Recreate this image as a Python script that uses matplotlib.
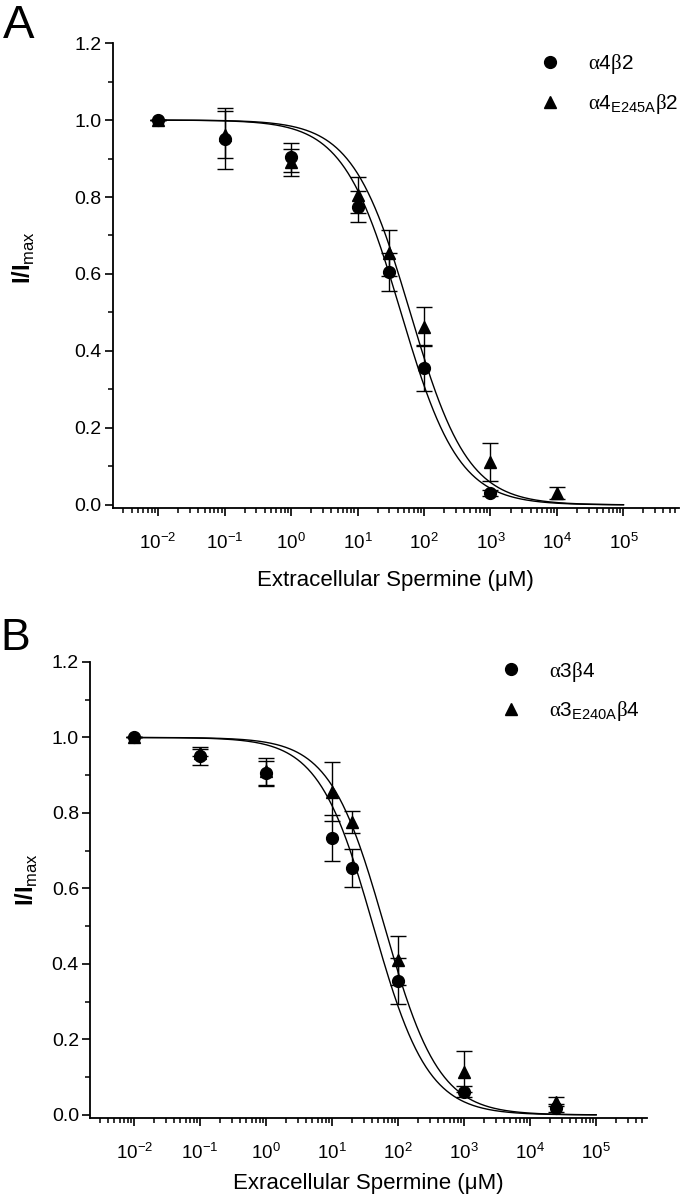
import matplotlib
matplotlib.use("Agg")
import matplotlib.pyplot as plt
import numpy as np
from matplotlib.ticker import (FixedLocator, LogLocator, MultipleLocator,
                               FormatStrFormatter, NullFormatter, LogFormatterSciNotation)

plt.rcParams['font.family'] = ['Liberation Sans', 'DejaVu Sans']
plt.rcParams['mathtext.fontset'] = 'custom'
plt.rcParams['mathtext.rm'] = 'Liberation Serif'
plt.rcParams['mathtext.sf'] = 'Liberation Sans'
plt.rcParams['mathtext.bf'] = 'Liberation Sans:bold'

# panel A: alpha4 beta2
a_conc_wt = [0.01, 0.1, 1, 10, 30, 100, 1000]
a_wt = [1.0, 0.952, 0.903, 0.775, 0.605, 0.355, 0.031]
a_wt_err = [0.0, 0.079, 0.038, 0.040, 0.050, 0.060, 0.008]
a_conc_mut = [0.01, 0.1, 1, 10, 30, 100, 1000, 10000]
a_mut = [1.0, 0.962, 0.890, 0.805, 0.655, 0.463, 0.112, 0.031]
a_mut_err = [0.0, 0.061, 0.035, 0.047, 0.059, 0.050, 0.050, 0.016]
a_fit_ic50 = [45.0, 62.0]
a_fit_n = [1.0, 1.0]

# panel B: alpha3 beta4
b_conc = [0.01, 0.1, 1, 10, 20, 100, 1000, 25000]
b_wt = [1.0, 0.952, 0.905, 0.734, 0.655, 0.355, 0.062, 0.018]
b_wt_err = [0.0, 0.024, 0.033, 0.060, 0.050, 0.060, 0.015, 0.010]
b_mut = [1.0, 0.960, 0.910, 0.856, 0.776, 0.410, 0.115, 0.035]
b_mut_err = [0.0, 0.010, 0.035, 0.078, 0.028, 0.065, 0.055, 0.012]
b_fit_ic50 = [42.0, 62.0]
b_fit_n = [1.05, 1.05]

x_ticks = [1e-2, 1e-1, 1e0, 1e1, 1e2, 1e3, 1e4, 1e5]
fit_range = (1e-2, 1e5)


def hill(x, ic50, n):
    return 1.0 / (1.0 + (x / ic50) ** n)


def panel(ax, conc_wt, wt, wt_err, conc_mut, mut, mut_err, ic50s, ns,
          labels, xlabel, xlim, leg_anchor, ylab_pos, xlabelpad):
    xs = np.logspace(np.log10(fit_range[0]), np.log10(fit_range[1]), 400)
    for ic50, n in zip(ic50s, ns):
        ax.plot(xs, hill(xs, ic50, n), color='black', lw=1.0, zorder=2)
    ax.errorbar(conc_wt, wt, yerr=wt_err, fmt='o', color='black', ms=8.5,
                capsize=5.5, elinewidth=1.0, capthick=1.0, zorder=3)
    ax.errorbar(conc_mut, mut, yerr=mut_err, fmt='^', color='black', ms=8.5,
                capsize=5.5, elinewidth=1.0, capthick=1.0, zorder=3)
    h1, = ax.plot([], [], 'o', color='black', ms=8.5)
    h2, = ax.plot([], [], '^', color='black', ms=8.5)
    ax.legend([h1, h2], labels, loc='upper left', bbox_to_anchor=leg_anchor,
              frameon=False, fontsize=15, handlelength=1.0, handletextpad=1.3,
              borderpad=0, borderaxespad=0, labelspacing=0.75)

    ax.set_xscale('log')
    ax.set_xlim(*xlim)
    ax.set_ylim(-0.008, 1.2)
    ax.xaxis.set_major_locator(FixedLocator(x_ticks))
    ax.xaxis.set_major_formatter(LogFormatterSciNotation())
    ax.xaxis.set_minor_locator(LogLocator(base=10, subs=np.arange(2, 10), numticks=20))
    ax.xaxis.set_minor_formatter(NullFormatter())
    ax.yaxis.set_major_locator(MultipleLocator(0.2))
    ax.yaxis.set_minor_locator(MultipleLocator(0.1))
    ax.yaxis.set_major_formatter(FormatStrFormatter('%.1f'))

    for s in ['top', 'right']:
        ax.spines[s].set_visible(False)
    for s in ['left', 'bottom']:
        ax.spines[s].set_linewidth(1.3)
    ax.tick_params(which='major', direction='out', length=6, width=1.2)
    ax.tick_params(which='minor', direction='out', length=3.5, width=1.1)
    ax.tick_params(axis='x', which='major', pad=12, labelsize=13.5)
    ax.tick_params(axis='y', which='major', pad=2, labelsize=14)

    ax.set_xlabel(xlabel, fontsize=16, labelpad=xlabelpad)
    ax.set_ylabel(r'$\mathbf{I/I}_{\mathsf{max}}$', fontsize=17)
    ax.yaxis.set_label_coords(*ylab_pos)


fig = plt.figure(figsize=(6.8, 11.99), dpi=100)
ax_a = fig.add_axes([0.166, 0.5763, 0.832, 0.3878])
ax_b = fig.add_axes([0.1324, 0.0676, 0.819, 0.3803])

panel(ax_a, a_conc_wt, a_wt, a_wt_err, a_conc_mut, a_mut, a_mut_err,
      a_fit_ic50, a_fit_n,
      [r'$\mathrm{α}\mathsf{4}\mathrm{β}\mathsf{2}$',
       r'$\mathrm{α}\mathsf{4}_{\mathsf{E245A}}\mathrm{β}\mathsf{2}$'],
      'Extracellular Spermine (μM)', (10 ** -2.68, 10 ** 5.83),
      (0.755, 0.98), (-0.134, 0.538), 12)

panel(ax_b, b_conc, b_wt, b_wt_err, b_conc, b_mut, b_mut_err,
      b_fit_ic50, b_fit_n,
      [r'$\mathrm{α}\mathsf{3}\mathrm{β}\mathsf{4}$',
       r'$\mathrm{α}\mathsf{3}_{\mathsf{E240A}}\mathrm{β}\mathsf{4}$'],
      'Exracellular Spermine (μM)', (10 ** -2.67, 10 ** 5.77),
      (0.738, 1.005), (-0.090, 0.522), 7)

fig.text(0.004, 0.968, 'A', fontsize=34)
fig.text(0.0, 0.458, 'B', fontsize=32)

fig.savefig('out.png', dpi=100)
